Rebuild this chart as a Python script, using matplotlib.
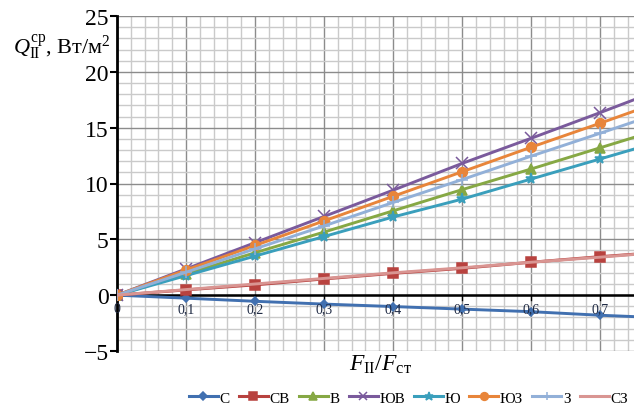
import numpy as np
import matplotlib.pyplot as plt
from matplotlib.ticker import MultipleLocator

plt.rcParams['font.family'] = ['Liberation Serif', 'DejaVu Serif']
plt.rcParams['mathtext.fontset'] = 'custom'
plt.rcParams['mathtext.rm'] = 'Liberation Serif'
plt.rcParams['mathtext.it'] = 'Liberation Serif:italic'

# F_II / F_st
x = [0.0, 0.1, 0.2, 0.3, 0.4, 0.5, 0.6, 0.7, 0.8]

# mean heat flux, W/m2, by orientation
s_vals   = [0, -0.27, -0.55, -0.8, -1.02, -1.25, -1.48, -1.8, -2.05]
sv_vals  = [0, 0.47, 0.92, 1.45, 1.95, 2.4, 2.95, 3.45, 3.9]
v_vals   = [0, 1.9, 3.8, 5.65, 7.55, 9.45, 11.3, 13.2, 15.1]
yuv_vals = [0, 2.35, 4.7, 7.05, 9.4, 11.8, 14.05, 16.35, 18.7]
yu_vals  = [0, 1.75, 3.5, 5.25, 7.0, 8.6, 10.4, 12.2, 14.0]
yuz_vals = [0, 2.25, 4.45, 6.65, 8.85, 11.05, 13.25, 15.4, 17.6]
z_vals   = [0, 2.05, 4.15, 6.2, 8.3, 10.35, 12.45, 14.5, 16.6]
sz_vals  = [0, 0.5, 1.0, 1.5, 2.0, 2.45, 2.95, 3.4, 3.9]

names = ['С', 'СВ', 'В', 'ЮВ', 'Ю', 'ЮЗ', 'З', 'СЗ']
series = [s_vals, sv_vals, v_vals, yuv_vals, yu_vals, yuz_vals, z_vals, sz_vals]
colors = ['#4170b0', '#b8423f', '#86a844', '#7a5a9c', '#3a9fbc', '#e8853a', '#92b0d8', '#d99592']
markers = ['D', 's', '^', 'x', '*', 'o', '+', '']
msizes = [4.5, 6.5, 6.5, 8, 8, 7, 8, 0]

fig = plt.figure(figsize=(6.34, 4.10), dpi=100)
ax = fig.add_axes([0.1845, 0.1415, 0.8155, 0.817])

for vals, nm, c, m, ms in zip(series, names, colors, markers, msizes):
    ax.plot(x, vals, color=c, lw=2.1, marker=m if m else None, ms=ms,
            mew=1.1, label=nm, zorder=3)

ax.set_xlim(0, 0.749)
ax.set_ylim(-5, 25)
ax.xaxis.set_major_locator(MultipleLocator(0.1))
ax.xaxis.set_minor_locator(MultipleLocator(0.02))
ax.yaxis.set_major_locator(MultipleLocator(5))
ax.yaxis.set_minor_locator(MultipleLocator(1))
ax.grid(which='major', color='#8c8c8c', lw=1.0, zorder=0)
ax.grid(which='minor', color='#cacaca', lw=1.0, zorder=0)

for sp in ['top', 'right', 'bottom']:
    ax.spines[sp].set_visible(False)
ax.spines['left'].set_linewidth(2)
ax.axhline(0, color='black', lw=1.8, zorder=2)

ax.set_yticks([-5, 0, 5, 10, 15, 20, 25])
ax.set_yticklabels(['\u22125', '0', '5', '10', '15', '20', '25'], fontsize=17)
ax.tick_params(axis='y', which='major', length=5, width=1.5, direction='out', pad=1)
ax.tick_params(axis='y', which='minor', length=0)
ax.tick_params(axis='x', which='both', length=0, labelbottom=False)

# x tick labels sit just under the zero line
xt = [0.0, 0.1, 0.2, 0.3, 0.4, 0.5, 0.6, 0.7]
xtl = ['0', '0,1', '0,2', '0,3', '0,4', '0,5', '0,6', '0,7']
for xv, lb in zip(xt, xtl):
    ax.plot([xv, xv], [0, -0.45], color='black', lw=1, zorder=2)
    ax.text(xv, -0.6, lb, ha='center', va='top', fontsize=10, color='#1f2a44', zorder=4)

fig.text(0.02, 0.885, r'$Q_{\rm II}^{\rm ср}$, Вт/м$^2$', fontsize=16, ha='left', va='center')
fig.text(0.60, 0.11, r'$F_{\rm II}/F_{\rm ст}$', fontsize=17, ha='center', va='center')

leg = fig.legend(loc='lower right', bbox_to_anchor=(1.005, -0.012), ncol=8, frameon=False,
                 fontsize=11, handlelength=1.9, handletextpad=0.1, columnspacing=0.6,
                 markerscale=0.8, borderaxespad=0.2)
for ln in leg.get_lines():
    ln.set_linewidth(2.2)

fig.savefig('out.png', dpi=100)
